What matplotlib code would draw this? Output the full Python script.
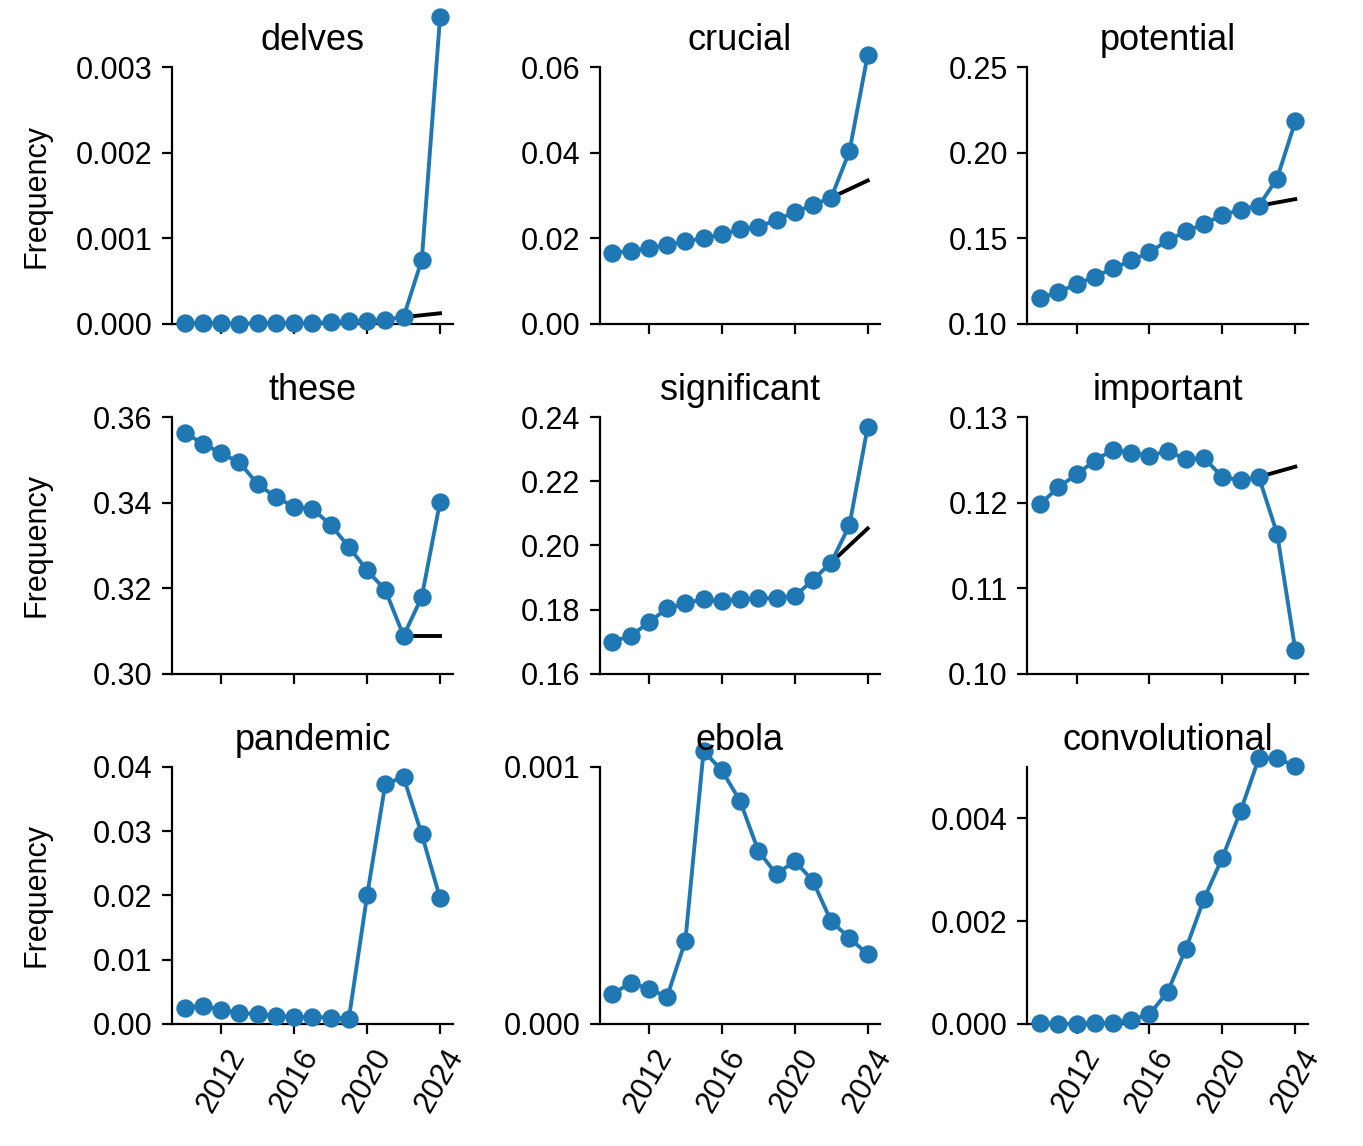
import matplotlib
matplotlib.use("Agg")
import matplotlib.pyplot as plt
import numpy as np

plt.rcParams['font.family'] = ['Liberation Sans', 'DejaVu Sans']
plt.rcParams['font.size'] = 11

# anos e frequencias
years = list(range(2010, 2025))
cf_years = [2022, 2024]

delves = [0.000010, 0.000010, 0.000008, 0.000005, 0.000012, 0.000012, 0.000010, 0.000012,
          0.000020, 0.000030, 0.000035, 0.000050, 0.000080, 0.00075, 0.00358]
crucial = [0.0166, 0.0171, 0.0177, 0.0184, 0.0193, 0.0200, 0.0209, 0.0221,
           0.0227, 0.0243, 0.0261, 0.0278, 0.0295, 0.0403, 0.0628]
potential = [0.1150, 0.1187, 0.1231, 0.1276, 0.1324, 0.1371, 0.1418, 0.1488,
             0.1540, 0.1585, 0.1635, 0.1668, 0.1690, 0.1849, 0.2183]
these = [0.3563, 0.3538, 0.3515, 0.3494, 0.3443, 0.3413, 0.3390, 0.3386,
         0.3348, 0.3297, 0.3242, 0.3196, 0.3089, 0.3180, 0.3402]
significant = [0.1701, 0.1718, 0.1761, 0.1804, 0.1820, 0.1833, 0.1826, 0.1833,
               0.1835, 0.1837, 0.1842, 0.1893, 0.1947, 0.2063, 0.2369]
important = [0.1198, 0.1218, 0.1233, 0.1249, 0.1262, 0.1258, 0.1255, 0.1260,
             0.1251, 0.1252, 0.1230, 0.1226, 0.1230, 0.1164, 0.1028]
pandemic = [0.00254, 0.00285, 0.00218, 0.00176, 0.00150, 0.00124, 0.00109, 0.00109,
            0.00098, 0.00083, 0.0200, 0.0374, 0.0384, 0.0295, 0.0196]
ebola = [0.000115, 0.000161, 0.000136, 0.000106, 0.000323, 0.001062, 0.000987, 0.000868,
         0.000674, 0.000582, 0.000635, 0.000556, 0.000399, 0.000335, 0.000271]
convolutional = [0.000013, 0.000006, 0.000006, 0.000013, 0.000026, 0.000078, 0.000188, 0.000628,
                 0.001463, 0.00244, 0.003236, 0.004142, 0.005172, 0.005172, 0.005016]

# contrafactual (linha preta) de 2022 ate 2024
cf_delves = [0.000080, 0.000125]
cf_crucial = [0.0295, 0.0335]
cf_potential = [0.1690, 0.1729]
cf_these = [0.3089, 0.3089]
cf_significant = [0.1947, 0.2053]
cf_important = [0.1230, 0.1242]

words = ['delves', 'crucial', 'potential', 'these', 'significant', 'important',
         'pandemic', 'ebola', 'convolutional']
series = [delves, crucial, potential, these, significant, important,
          pandemic, ebola, convolutional]
cfs = [cf_delves, cf_crucial, cf_potential, cf_these, cf_significant, cf_important,
       None, None, None]
ylims = [(0, 0.003), (0, 0.06), (0.10, 0.25), (0.30, 0.36), (0.16, 0.24), (0.10, 0.13),
         (0, 0.04), (0, 0.001), (0, 0.005)]
yticks = [[0, 0.001, 0.002, 0.003], [0, 0.02, 0.04, 0.06], [0.10, 0.15, 0.20, 0.25],
          [0.30, 0.32, 0.34, 0.36], [0.16, 0.18, 0.20, 0.22, 0.24], [0.10, 0.11, 0.12, 0.13],
          [0, 0.01, 0.02, 0.03, 0.04], [0, 0.001], [0, 0.002, 0.004]]
xticks = [2012, 2016, 2020, 2024]

fig, axes = plt.subplots(3, 3, figsize=(6.815, 5.73), dpi=200, sharex=True)
fig.subplots_adjust(left=0.1262, right=0.9597, top=0.9415, bottom=0.1065,
                    wspace=0.523, hspace=0.362)

for i, ax in enumerate(axes.flat):
    if cfs[i] is not None:
        ax.plot(cf_years, cfs[i], color='black', lw=1.4, clip_on=False, zorder=2)
    ax.plot(years, series[i], color='#1f77b4', marker='o', ms=5.6, lw=1.4,
            clip_on=False, zorder=3)
    ax.set_title(words[i], fontsize=13, pad=6)
    ax.set_ylim(*ylims[i])
    ax.set_yticks(yticks[i])
    ax.set_xticks(xticks)
    ax.spines['top'].set_visible(False)
    ax.spines['right'].set_visible(False)
    if i % 3 == 0:
        ax.set_ylabel('Frequency')
        ax.yaxis.set_label_coords(-0.43, 0.5)
    if i >= 6:
        plt.setp(ax.get_xticklabels(), rotation=60)

plt.savefig('out.png', dpi=200)
